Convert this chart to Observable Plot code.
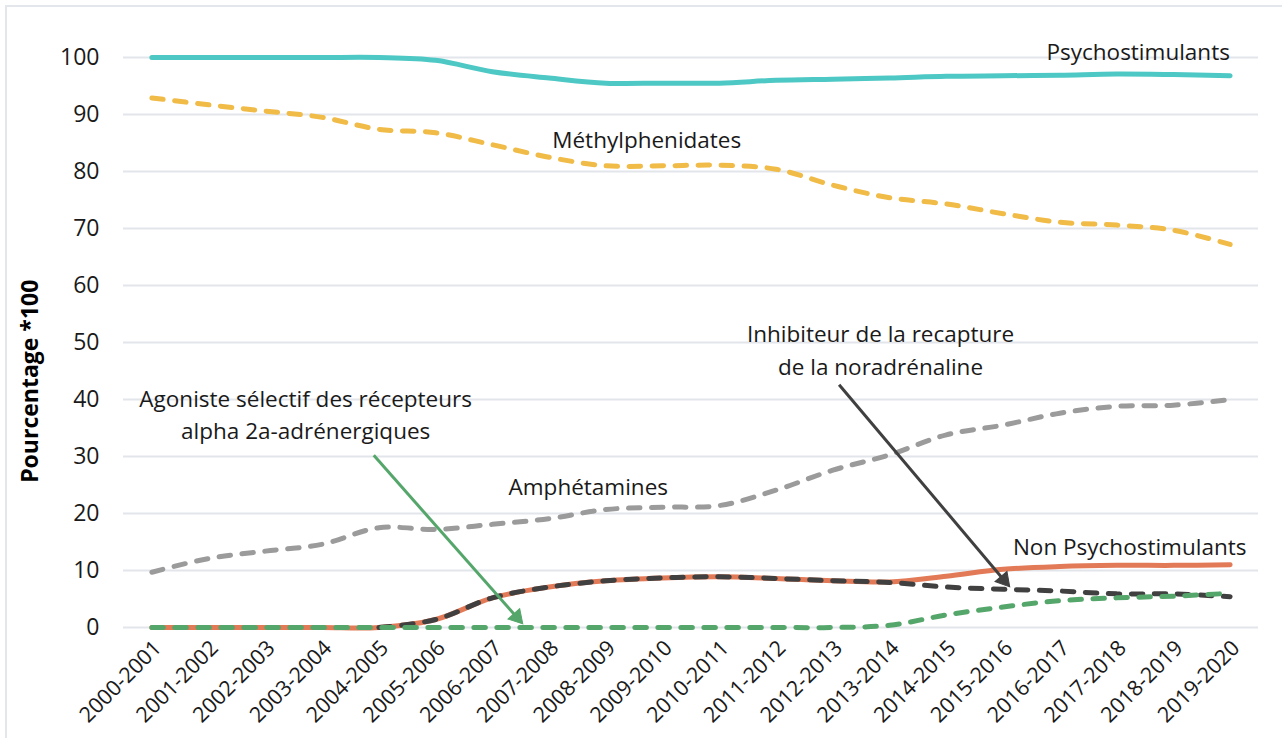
<!DOCTYPE html>
<html><head><meta charset="utf-8">
<script src="https://cdn.jsdelivr.net/npm/d3@7"></script>
<script src="https://cdn.jsdelivr.net/npm/@observablehq/plot@0.6"></script>
<style>
body{margin:0;background:#fff;font-family:"Open Sans",sans-serif;}
#wrap{position:relative;width:1282px;height:738px;overflow:hidden;background:#fff;}
#frame{position:absolute;left:5px;top:5px;width:1400px;height:900px;border-left:2px solid #e3e7ec;border-top:2px solid #e3e7ec;}
#chart{position:absolute;left:0;top:0;}
</style></head><body><div id="wrap"><div id="frame"></div><div id="chart"></div></div>
<script>
const years = ["2000-2001","2001-2002","2002-2003","2003-2004","2004-2005","2005-2006","2006-2007","2007-2008","2008-2009","2009-2010","2010-2011","2011-2012","2012-2013","2013-2014","2014-2015","2015-2016","2016-2017","2017-2018","2018-2019","2019-2020"];
const yTicks = [0,10,20,30,40,50,60,70,80,90,100];
const psychostimulants = [100,100,100,100,100,99.5,97.5,96.4,95.5,95.5,95.5,96.0,96.2,96.4,96.7,96.8,96.9,97.1,97.0,96.8];
const methylphenidates = [92.9,91.7,90.6,89.5,87.4,86.8,84.7,82.5,81.0,81.0,81.1,80.4,77.6,75.4,74.3,72.6,71.1,70.6,69.7,67.2];
const amphetamines = [9.7,12.1,13.4,14.6,17.5,17.2,18.1,19.1,20.7,21.1,21.4,24.1,27.6,30.3,33.8,35.5,37.6,38.8,39.0,40.0];
const nonPsychostimulants = [0,0,0,0,0,1.4,5.2,7.1,8.2,8.7,8.9,8.6,8.2,8.0,9.0,10.2,10.7,10.9,10.9,11.0];
const inhibiteur = [null,null,null,null,0,1.4,5.2,7.1,8.2,8.7,8.9,8.6,8.2,7.9,7.1,6.7,6.4,5.9,5.9,5.4];
const agoniste = [0,0,0,0,0,0,0,0,0,0,0,0,0,0.4,2.2,3.6,4.7,5.2,5.5,6.0];

const series = [
  {name:"Amphétamines", values:amphetamines, color:"#9b9b9b", dash:"11.5,11.5"},
  {name:"Méthylphenidates", values:methylphenidates, color:"#f0bb47", dash:"11.5,11.5"},
  {name:"Psychostimulants", values:psychostimulants, color:"#4ec8c4", dash:null},
  {name:"Non Psychostimulants", values:nonPsychostimulants, color:"#e27a57", dash:null},
  {name:"Inhibiteur", values:inhibiteur, color:"#404040", dash:"11.5,11.5"},
  {name:"Agoniste", values:agoniste, color:"#55a66a", dash:"11.5,11.5"}
];

const labels = [
  {text:"Psychostimulants", x:17.38, y:101.4},
  {text:"Méthylphenidates", x:8.72, y:86.0},
  {text:"Amphétamines", x:7.69, y:25.0},
  {text:"Non Psychostimulants", x:17.23, y:14.5},
  {text:"Agoniste sélectif des récepteurs\nalpha 2a-adrénergiques", x:2.71, y:37.7},
  {text:"Inhibiteur de la recapture\nde la noradrénaline", x:12.84, y:49.0}
];
const arrows = [
  {x1:3.91, y1:30.2, x2:6.53, y2:0.7, color:"#55a66a"},
  {x1:12.11, y1:42.6, x2:15.11, y2:7.2, color:"#404040"}
];
const yTitle = [{text:"Pourcentage *100", x:-2.14, y:43.2}];

const W = 1282, H = 738, ML = 123, MR = 24, MT = 57, MB = 111;
const kx = (W - ML - MR) / 20, ky = (H - MT - MB) / 100;

// arrow heads: filled triangles, line shortened to the head
const headBack = 8.5;
const arrowParts = arrows.map(a => {
  const dxp = (a.x2 - a.x1) * kx, dyp = -(a.y2 - a.y1) * ky;
  const len = Math.hypot(dxp, dyp), ux = dxp / len, uy = dyp / len;
  const cx = a.x2 - headBack * ux / kx, cy = a.y2 + headBack * uy / ky;
  const rot = Math.atan2(ux, -uy) * 180 / Math.PI;
  return {...a, cx, cy, rot};
});

const lineMarks = series.map(s => {
  const rows = s.values.map((v,i)=>({i, v})).filter(d => d.v !== null);
  return Plot.line(rows, {x:"i", y:"v", stroke:s.color, strokeWidth:5,
    strokeDasharray:s.dash || undefined, strokeLinecap:"round", strokeLinejoin:"round", curve:"catmull-rom"});
});

const chart = Plot.plot({
  width:W, height:H,
  marginLeft:ML, marginRight:MR, marginTop:MT, marginBottom:MB,
  style:{fontFamily:"Open Sans", fontSize:"21px", color:"#1a1a1a", background:"transparent", overflow:"visible"},
  x:{domain:[-0.5,19.5], axis:null},
  y:{domain:[0,100], axis:null},
  marks:[
    Plot.gridY(yTicks, {stroke:"#e2e6eb", strokeWidth:2, strokeOpacity:1}),
    Plot.axisY(yTicks, {tickSize:0, tickPadding:24, fontSize:23, label:null}),
    Plot.axisX(d3.range(years.length), {tickSize:0, tickRotate:-45, tickPadding:17, dx:6, tickFormat:i=>years[i], fontSize:21.5, label:null}),
    ...lineMarks,
    ...arrowParts.map(a => Plot.link([a], {x1:"x1", y1:"y1", x2:"cx", y2:"cy", stroke:a.color, strokeWidth:3})),
    ...arrowParts.map(a => Plot.dot([a], {x:"cx", y:"cy", symbol:"triangle", r:5.8, fill:a.color, stroke:a.color, strokeWidth:1, rotate:a.rot})),
    Plot.text(labels, {x:"x", y:"y", text:"text", fontSize:22.5, lineAnchor:"middle", lineHeight:1.45, fill:"#1a1a1a"}),
    Plot.text(yTitle, {x:"x", y:"y", text:"text", rotate:-90, fontSize:23, fontWeight:"bold", fill:"#000"})
  ]
});
document.getElementById("chart").appendChild(chart);
</script></body></html>
